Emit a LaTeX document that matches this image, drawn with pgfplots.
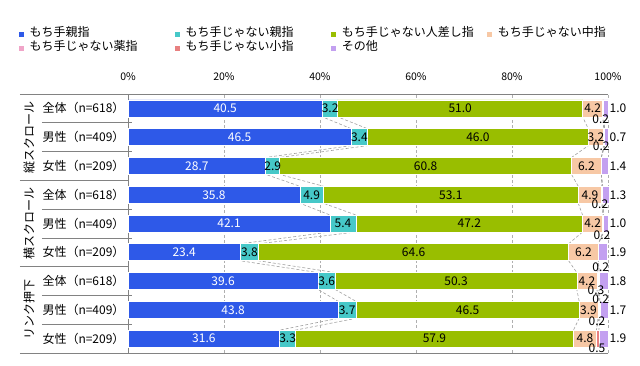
\documentclass[border=0pt]{standalone}
\usepackage{fontspec}
\setmainfont{Noto Sans CJK JP}
\usepackage{pgfplots}
\usepackage{pgfplotstable}
\pgfplotsset{compat=1.18}

\definecolor{cA}{RGB}{46,89,232}
\definecolor{cB}{RGB}{70,200,200}
\definecolor{cC}{RGB}{153,190,0}
\definecolor{cD}{RGB}{247,200,165}
\definecolor{cE}{RGB}{240,165,200}
\definecolor{cF}{RGB}{232,128,128}
\definecolor{cG}{RGB}{195,160,240}
\definecolor{gridc}{RGB}{175,175,175}
\definecolor{slc}{RGB}{160,160,160}
\definecolor{axc}{RGB}{130,130,130}

\newcommand{\fl}{\fontsize{12bp}{14bp}\selectfont}
\newcommand{\ft}{\fontsize{10.5bp}{12bp}\selectfont}

% each row twice: s=-1 top edge, s=1 bottom edge (used for the series lines)
\pgfplotstableread{
k s a b c d e f g
0 -1 40.5 3.2 51.0 4.2 0.2 0 1.0
0 1 40.5 3.2 51.0 4.2 0.2 0 1.0
1 -1 46.5 3.4 46.0 3.2 0.2 0 0.7
1 1 46.5 3.4 46.0 3.2 0.2 0 0.7
2 -1 28.7 2.9 60.8 6.2 0 0 1.4
2 1 28.7 2.9 60.8 6.2 0 0 1.4
3 -1 35.8 4.9 53.1 4.9 0.2 0 1.3
3 1 35.8 4.9 53.1 4.9 0.2 0 1.3
4 -1 42.1 5.4 47.2 4.2 0.2 0 1.0
4 1 42.1 5.4 47.2 4.2 0.2 0 1.0
5 -1 23.4 3.8 64.6 6.2 0 0 1.9
5 1 23.4 3.8 64.6 6.2 0 0 1.9
6 -1 39.6 3.6 50.3 4.2 0.2 0.3 1.8
6 1 39.6 3.6 50.3 4.2 0.2 0.3 1.8
7 -1 43.8 3.7 46.5 3.9 0.2 0.2 1.7
7 1 43.8 3.7 46.5 3.9 0.2 0.2 1.7
8 -1 31.6 3.3 57.9 4.8 0 0.5 1.9
8 1 31.6 3.3 57.9 4.8 0 0.5 1.9
}\data

% small labels (ring / little finger) placed off the bars
\pgfplotstableread{
x y v
98.5 7.63 0.2
98.6 6.68 0.2
98.3 4.68 0.2
98.75 3.60 0.2
98.5 2.47 0.2
97.5 1.68 0.3
98.5 1.36 0.2
97.7 0.60 0.2
97.7 -0.33 0.5
}\smalllab

\pgfplotsset{
  base/.style={width=480bp,height=259bp,scale only axis,at={(128bp,13bp)},anchor=south west,
    xmin=0,xmax=100,ymin=-0.5,ymax=8.5,clip=false},
  sl/.style={draw=slc,line width=0.6bp,dash pattern=on 3bp off 2bp},
  labbase/.style={draw=none,nodes near coords={\pgfmathprintnumber[fixed,fixed zerofill,precision=1,assume math mode=true]{\pgfplotspointmeta}},
    nodes near coords style={anchor=center,font=\fl,text=black,inner sep=0pt}},
  lab/.style={labbase,each nth point=2},
  bb/.style={fill=#1,draw=white,line width=0.6bp,each nth point=2,
    legend image code/.code={\fill[fill=#1] (0bp,-3bp) rectangle (6bp,3bp);}},
}

\begin{document}
\begin{tikzpicture}
\path[use as bounding box] (0,0) rectangle (640bp,366bp);

% series lines (behind the bars)
\begin{axis}[base,hide axis]
\addplot[sl] table[x expr=\thisrow{a},y expr=8-\thisrow{k}-0.295*\thisrow{s}] {\data};
\addplot[sl] table[x expr=\thisrow{a}+\thisrow{b},y expr=8-\thisrow{k}-0.295*\thisrow{s}] {\data};
\addplot[sl] table[x expr=\thisrow{a}+\thisrow{b}+\thisrow{c},y expr=8-\thisrow{k}-0.295*\thisrow{s}] {\data};
\addplot[sl] table[x expr=\thisrow{a}+\thisrow{b}+\thisrow{c}+\thisrow{d},y expr=8-\thisrow{k}-0.295*\thisrow{s}] {\data};
\addplot[sl] table[x expr=\thisrow{a}+\thisrow{b}+\thisrow{c}+\thisrow{d}+\thisrow{e},y expr=8-\thisrow{k}-0.295*\thisrow{s}] {\data};
\addplot[sl] table[x expr=\thisrow{a}+\thisrow{b}+\thisrow{c}+\thisrow{d}+\thisrow{e}+\thisrow{f},y expr=8-\thisrow{k}-0.295*\thisrow{s}] {\data};
\end{axis}

% bars
\begin{axis}[base,
  xbar stacked, bar width=0.59,
  axis x line*=top, axis y line*=left,
  axis line style={draw=axc,line width=0.7bp},
  xtick={0,20,40,60,80,100},
  xticklabels={0\%,20\%,40\%,60\%,80\%,100\%},
  xticklabel style={font=\ft,yshift=9.5bp},
  xtick style={draw=none},
  xmajorgrids, grid style={gridc,line width=0.6bp,dash pattern=on 3bp off 2bp},
  ytick={0,1,2,3,4,5,6,7,8},
  yticklabels={女性（n=209）,男性（n=409）,全体（n=618）,女性（n=209）,男性（n=409）,全体（n=618）,女性（n=209）,男性（n=409）,全体（n=618）},
  yticklabel style={font=\fl},
  ytick style={draw=none},
  legend columns=4, legend cell align=left,
  legend style={at={(axis description cs:-0.2292,1.255)},anchor=north west,draw=none,fill=none,
    inner sep=0pt,outer sep=0pt,font=\fl,row sep=2bp,
    nodes={inner sep=0pt,text height=9bp,text depth=3bp},
    /tikz/every odd column/.append style={column sep=5bp},
    /tikz/every even column/.append style={column sep=0bp}},
]
\addplot[bb=cA] table[x=a,y expr=8-\thisrow{k}] {\data};
\addlegendentry{\makebox[144.5bp][l]{もち手親指}}
\addplot[bb=cB] table[x=b,y expr=8-\thisrow{k}] {\data};
\addlegendentry{\makebox[144.5bp][l]{もち手じゃない親指}}
\addplot[bb=cC] table[x=c,y expr=8-\thisrow{k}] {\data};
\addlegendentry{\makebox[144.5bp][l]{もち手じゃない人差し指}}
\addplot[bb=cD] table[x=d,y expr=8-\thisrow{k}] {\data};
\addlegendentry{\makebox[144.5bp][l]{もち手じゃない中指}}
\addplot[bb=cE] table[x=e,y expr=8-\thisrow{k}] {\data};
\addlegendentry{\makebox[144.5bp][l]{もち手じゃない薬指}}
\addplot[bb=cF] table[x=f,y expr=8-\thisrow{k}] {\data};
\addlegendentry{\makebox[144.5bp][l]{もち手じゃない小指}}
\addplot[bb=cG] table[x=g,y expr=8-\thisrow{k}] {\data};
\addlegendentry{\makebox[144.5bp][l]{その他}}

\draw[axc,line width=0.7bp] ([xshift=-108bp]axis cs:0,8.5) -- (axis cs:0,8.5);
\draw[axc,line width=0.7bp] ([xshift=-108bp]axis cs:0,5.5) -- (axis cs:0,5.5);
\draw[axc,line width=0.7bp] ([xshift=-108bp]axis cs:0,2.5) -- (axis cs:0,2.5);
\draw[axc,line width=0.7bp] ([xshift=-108bp]axis cs:0,-0.5) -- (axis cs:100,-0.5);
\pgfplotsinvokeforeach{7.5,6.5,4.5,3.5,1.5,0.5}{
  \draw[axc,line width=0.7bp] ([xshift=-86bp]axis cs:0,#1) -- ([xshift=4bp]axis cs:0,#1);
}
\node[rotate=90,font=\fl,inner sep=0pt] at ([xshift=-99bp]axis cs:0,7) {縦スクロール};
\node[rotate=90,font=\fl,inner sep=0pt] at ([xshift=-99bp]axis cs:0,4) {横スクロール};
\node[rotate=90,font=\fl,inner sep=0pt] at ([xshift=-99bp]axis cs:0,1) {リンク押下};
\end{axis}

% data labels
\begin{axis}[base,hide axis]
\addplot[lab,nodes near coords style={text=white},point meta=\thisrow{a}]
  table[x expr=\thisrow{a}/2,y expr=8-\thisrow{k}] {\data};
\addplot[lab,point meta=\thisrow{b}]
  table[x expr=\thisrow{a}+\thisrow{b}/2,y expr=8-\thisrow{k}] {\data};
\addplot[lab,point meta=\thisrow{c}]
  table[x expr=\thisrow{a}+\thisrow{b}+\thisrow{c}/2,y expr=8-\thisrow{k}] {\data};
\addplot[lab,point meta=\thisrow{d}]
  table[x expr=\thisrow{a}+\thisrow{b}+\thisrow{c}+\thisrow{d}/2,y expr=8-\thisrow{k}] {\data};
\addplot[lab,nodes near coords style={anchor=west,xshift=1.5bp},point meta=\thisrow{g}]
  table[x expr=100,y expr=8-\thisrow{k}] {\data};
\addplot[labbase,point meta=explicit] table[x=x,y=y,meta=v] {\smalllab};
\end{axis}
\end{tikzpicture}
\end{document}
